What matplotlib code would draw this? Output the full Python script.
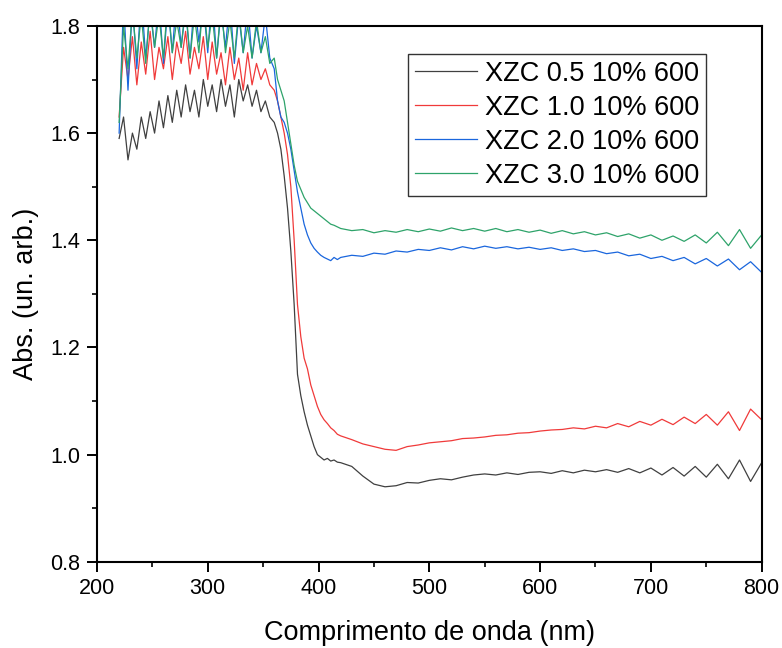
import numpy as np
import matplotlib.pyplot as plt
from matplotlib.ticker import MultipleLocator

plt.rcParams['font.family'] = ['Liberation Sans', 'DejaVu Sans']

# wavelength sampling (nm)
wl = np.concatenate([np.arange(220, 360, 4), np.arange(360, 420, 3), np.arange(420, 801, 10)])

labels = ["XZC 0.5 10% 600", "XZC 1.0 10% 600", "XZC 2.0 10% 600", "XZC 3.0 10% 600"]
colors = ["#404040", "#f03a3a", "#1a66dd", "#2ea36a"]

abs_05 = [1.59, 1.63, 1.55, 1.60, 1.57, 1.63, 1.59, 1.64, 1.60, 1.66, 1.61, 1.67, 1.62, 1.68, 1.63, 1.69, 1.64, 1.68,
          1.63, 1.70, 1.65, 1.69, 1.64, 1.70, 1.65, 1.69, 1.63, 1.70, 1.66, 1.69, 1.65, 1.68, 1.64, 1.66, 1.63,
          1.62, 1.60, 1.57, 1.52, 1.46, 1.38, 1.28, 1.15, 1.11, 1.08, 1.055, 1.035, 1.015, 1.00, 0.995, 0.99, 0.993,
          0.988, 0.99, 0.986,
          0.985, 0.978, 0.96, 0.945, 0.94, 0.942, 0.948, 0.947, 0.952, 0.955, 0.953, 0.958, 0.962, 0.964, 0.962,
          0.966, 0.963, 0.967, 0.968, 0.965, 0.97, 0.966, 0.971, 0.968, 0.972, 0.967, 0.974, 0.966, 0.975, 0.962,
          0.976, 0.960, 0.978, 0.958, 0.982, 0.955, 0.99, 0.95, 0.985]

abs_10 = [1.63, 1.76, 1.70, 1.78, 1.69, 1.77, 1.71, 1.79, 1.70, 1.76, 1.72, 1.78, 1.70, 1.77, 1.73, 1.79, 1.71, 1.76,
          1.72, 1.78, 1.70, 1.77, 1.71, 1.75, 1.69, 1.76, 1.70, 1.74, 1.68, 1.75, 1.69, 1.73, 1.70, 1.72, 1.69,
          1.68, 1.66, 1.63, 1.60, 1.56, 1.50, 1.40, 1.28, 1.22, 1.18, 1.16, 1.13, 1.11, 1.09, 1.075, 1.065, 1.058,
          1.05, 1.045, 1.038,
          1.035, 1.028, 1.02, 1.015, 1.01, 1.008, 1.015, 1.018, 1.022, 1.024, 1.026, 1.03, 1.031, 1.033, 1.036,
          1.037, 1.040, 1.041, 1.044, 1.046, 1.047, 1.05, 1.048, 1.053, 1.05, 1.058, 1.052, 1.062, 1.055, 1.066,
          1.056, 1.07, 1.058, 1.075, 1.055, 1.08, 1.045, 1.085, 1.065]

abs_20 = [1.60, 1.85, 1.68, 1.84, 1.72, 1.86, 1.74, 1.83, 1.76, 1.85, 1.73, 1.84, 1.75, 1.86, 1.76, 1.83, 1.74, 1.85,
          1.77, 1.84, 1.75, 1.86, 1.74, 1.83, 1.76, 1.85, 1.73, 1.82, 1.75, 1.84, 1.74, 1.80, 1.75, 1.82, 1.74,
          1.72, 1.66, 1.63, 1.62, 1.60, 1.57, 1.53, 1.49, 1.46, 1.43, 1.41, 1.395, 1.385, 1.378, 1.372, 1.368, 1.365,
          1.362, 1.368, 1.364,
          1.368, 1.372, 1.37, 1.376, 1.374, 1.38, 1.378, 1.383, 1.381, 1.386, 1.382, 1.388, 1.384, 1.389, 1.385,
          1.388, 1.384, 1.387, 1.383, 1.386, 1.381, 1.384, 1.379, 1.381, 1.375, 1.378, 1.371, 1.374, 1.366, 1.37,
          1.362, 1.368, 1.356, 1.366, 1.352, 1.365, 1.345, 1.36, 1.34]

abs_30 = [1.62, 1.80, 1.72, 1.83, 1.74, 1.82, 1.73, 1.84, 1.76, 1.82, 1.74, 1.85, 1.75, 1.81, 1.76, 1.84, 1.74, 1.82,
          1.75, 1.85, 1.76, 1.82, 1.74, 1.84, 1.75, 1.81, 1.74, 1.83, 1.75, 1.80, 1.74, 1.81, 1.75, 1.78, 1.73,
          1.74, 1.70, 1.68, 1.66, 1.62, 1.58, 1.54, 1.51, 1.495, 1.48, 1.47, 1.46, 1.455, 1.45, 1.445, 1.44, 1.435,
          1.43, 1.428, 1.425,
          1.422, 1.418, 1.42, 1.414, 1.418, 1.415, 1.42, 1.416, 1.421, 1.417, 1.423, 1.418, 1.422, 1.417, 1.422,
          1.416, 1.42, 1.415, 1.419, 1.413, 1.418, 1.412, 1.416, 1.41, 1.414, 1.407, 1.412, 1.404, 1.41, 1.4,
          1.408, 1.398, 1.41, 1.395, 1.415, 1.39, 1.42, 1.385, 1.41]

fig = plt.figure(figsize=(7.82, 6.48), dpi=100)
ax = fig.add_axes([0.124, 0.133, 0.850, 0.827])

for y, c, lab in zip([abs_05, abs_10, abs_20, abs_30], colors, labels):
    ax.plot(wl, y, color=c, lw=0.9, label=lab)

ax.set_xlim(200, 800)
ax.set_ylim(0.8, 1.8)
ax.xaxis.set_major_locator(MultipleLocator(100))
ax.xaxis.set_minor_locator(MultipleLocator(50))
ax.yaxis.set_major_locator(MultipleLocator(0.2))
ax.yaxis.set_minor_locator(MultipleLocator(0.1))
ax.tick_params(which='major', direction='out', length=7, width=1.4, labelsize=15.5, pad=5)
ax.tick_params(which='minor', direction='out', length=3.8, width=1.2)
for s in ax.spines.values():
    s.set_linewidth(1.5)

ax.set_xlabel("Comprimento de onda (nm)", fontsize=19.5, labelpad=15)
ax.set_ylabel("Abs. (un. arb.)", fontsize=19.5, labelpad=8)

leg = ax.legend(loc='upper right', bbox_to_anchor=(0.917, 0.948), borderaxespad=0, fontsize=19.5,
                fancybox=False, edgecolor='#333333', framealpha=1, handlelength=2.3, handletextpad=0.3,
                borderpad=0.25, labelspacing=0.3)
leg.get_frame().set_linewidth(1.0)

fig.savefig("out.png", dpi=100)
